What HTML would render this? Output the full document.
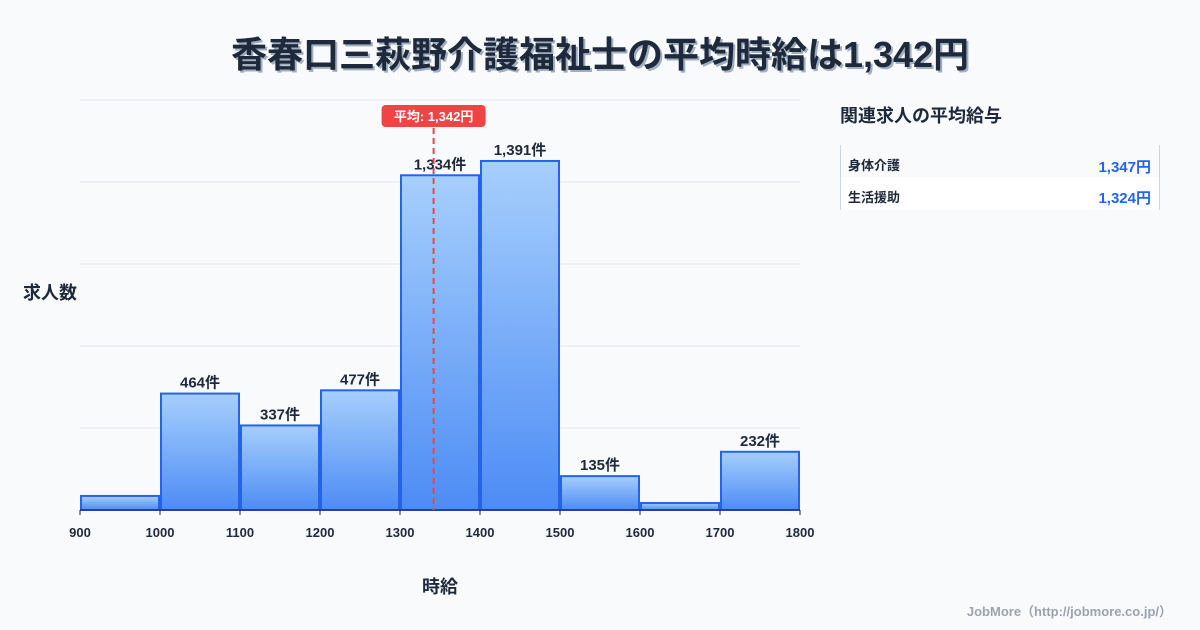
<!DOCTYPE html>
<html><head><meta charset="utf-8"><style>
body{margin:0;background:#f8fafc;font-family:"Liberation Sans","Noto Sans CJK JP",sans-serif;}
#wrap{position:relative;width:1200px;height:630px;overflow:hidden;background:#f8fafc;}
</style></head><body>
<div id="wrap">
<svg id="svg" width="1200" height="630" xmlns="http://www.w3.org/2000/svg">
<defs>
<linearGradient id="g" x1="0" y1="0" x2="0" y2="1"><stop offset="0" stop-color="#a6cffc"/><stop offset="1" stop-color="#4d8cf5"/></linearGradient>
</defs>
<text x="600" y="67" text-anchor="middle" font-size="36" font-weight="bold" fill="#1e293b" style="text-shadow:2px 2px 0 #a0aec0" font-family="Liberation Sans,Noto Sans CJK JP,sans-serif">香春口三萩野介護福祉士の平均時給は1,342円</text>
<g id="grid"></g>
<g id="bars"></g>
<g id="xaxis"></g>
<text x="50" y="299" text-anchor="middle" font-size="18" font-weight="bold" fill="#1e293b">求人数</text>
<text x="440" y="593" text-anchor="middle" font-size="18" font-weight="bold" fill="#1e293b">時給</text>
<text x="840" y="122" font-size="18" font-weight="bold" fill="#1e293b">関連求人の平均給与</text>
<line x1="840.5" y1="145" x2="840.5" y2="210" stroke="#cbd5e1"/>
<line x1="1159.5" y1="145" x2="1159.5" y2="210" stroke="#cbd5e1"/>
<rect x="841" y="177" width="318" height="33" fill="#ffffff"/>
<text x="848" y="170" font-size="13" font-weight="bold" fill="#1e293b">身体介護</text>
<text x="1151" y="172" text-anchor="end" font-size="15" font-weight="bold" fill="#2563eb">1,347円</text>
<text x="848" y="202" font-size="13" font-weight="bold" fill="#1e293b">生活援助</text>
<text x="1151" y="203" text-anchor="end" font-size="15" font-weight="bold" fill="#2563eb">1,324円</text>
<text x="1172" y="616" text-anchor="end" font-size="13" font-weight="bold" fill="#9ca3af">JobMore（http://jobmore.co.jp/）</text>
<g id="avg"></g>
</svg>
</div>
<script>
const binStarts=[900,1000,1100,1200,1300,1400,1500,1600,1700];
const counts=[56,464,337,477,1334,1391,135,28,232];
const showLabel=[false,true,true,true,true,true,true,false,true];
const xTicks=[900,1000,1100,1200,1300,1400,1500,1600,1700,1800];
const avgValue=1342;
const binWidth=100;
const X0=80,X1=800,Y0=510,YTOP=100,XMIN=900,XMAX=1800,YMAX=1634;
const ns="http://www.w3.org/2000/svg";
const sx=v=>X0+(v-XMIN)/(XMAX-XMIN)*(X1-X0);
const sy=v=>Y0-v/YMAX*(Y0-YTOP);
function mk(tag,attrs,parent){const e=document.createElementNS(ns,tag);for(const k in attrs)e.setAttribute(k,attrs[k]);parent.appendChild(e);return e;}
const grid=document.getElementById('grid');
for(let i=0;i<5;i++){const y=YTOP+i*(Y0-YTOP)/5;
const l=mk('line',{x1:X0,x2:X1,y1:y,y2:y,stroke:'#e2e8f0','stroke-width':1},grid);

}
const bars=document.getElementById('bars');
binStarts.forEach((b,i)=>{
const x=sx(b)+1,w=sx(b+binWidth)-sx(b)-2,y=sy(counts[i]);
const r=mk('rect',{x:x,y:y,width:w,height:Y0-y,fill:'url(#g)',stroke:'#2563eb','stroke-width':2},bars);


if(showLabel[i]){const t=mk('text',{x:x+w/2,y:y-6,'text-anchor':'middle','font-size':15,'font-weight':'bold',fill:'#1e293b'},bars);
t.textContent=counts[i].toLocaleString('en-US')+'件';

}
});
const xa=document.getElementById('xaxis');
const al=mk('line',{x1:X0,x2:X1,y1:Y0,y2:Y0,stroke:'#1e293b','stroke-width':1},xa);


xTicks.forEach(v=>{
const tk=mk('line',{x1:sx(v),x2:sx(v),y1:Y0,y2:Y0+5,stroke:'#1e293b'},xa);


const t=mk('text',{x:sx(v),y:Y0+27,'text-anchor':'middle','font-size':13,'font-weight':'bold',fill:'#1e293b'},xa);
t.textContent=v;

});
const av=document.getElementById('avg');
const ax=sx(avgValue);
const dl=mk('line',{x1:ax,x2:ax,y1:128,y2:Y0,stroke:'#e5484d','stroke-width':2,'stroke-dasharray':'6,4'},av);


const br=mk('rect',{x:ax-52,y:105,width:104,height:22,rx:4,fill:'#ef4444'},av);


const bt=mk('text',{x:ax,y:121,'text-anchor':'middle','font-size':13,'font-weight':'bold',fill:'#fff'},av);
bt.textContent='平均: '+avgValue.toLocaleString('en-US')+'円';


</script>
</body></html>
